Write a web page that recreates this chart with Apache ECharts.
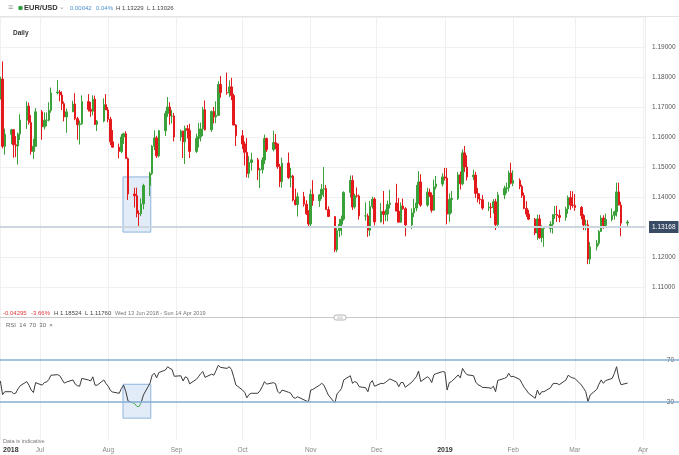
<!DOCTYPE html>
<html><head><meta charset="utf-8">
<script src="https://cdn.jsdelivr.net/npm/echarts@6/dist/echarts.min.js"></script>
<style>html,body{margin:0;padding:0;background:#fff}#c{width:679px;height:455px}</style>
</head><body><div id="c"></div>
<script>
// ---------- DATA ----------
const dates = [
'2018-06-13','2018-06-14','2018-06-15','2018-06-18','2018-06-19','2018-06-20','2018-06-21','2018-06-22','2018-06-25','2018-06-26','2018-06-27','2018-06-28','2018-06-29',
'2018-07-02','2018-07-03','2018-07-04','2018-07-05','2018-07-06','2018-07-09','2018-07-10','2018-07-11','2018-07-12','2018-07-13','2018-07-16','2018-07-17','2018-07-18','2018-07-19','2018-07-20','2018-07-23','2018-07-24','2018-07-25','2018-07-26','2018-07-27','2018-07-30','2018-07-31',
'2018-08-01','2018-08-02','2018-08-03','2018-08-06','2018-08-07','2018-08-08','2018-08-09','2018-08-10','2018-08-13','2018-08-14','2018-08-15','2018-08-16','2018-08-17','2018-08-20','2018-08-21','2018-08-22','2018-08-23','2018-08-24','2018-08-27','2018-08-28','2018-08-29','2018-08-30','2018-08-31',
'2018-09-03','2018-09-04','2018-09-05','2018-09-06','2018-09-07','2018-09-10','2018-09-11','2018-09-12','2018-09-13','2018-09-14','2018-09-17','2018-09-18','2018-09-19','2018-09-20','2018-09-21','2018-09-24','2018-09-25','2018-09-26','2018-09-27','2018-09-28',
'2018-10-01','2018-10-02','2018-10-03','2018-10-04','2018-10-05','2018-10-08','2018-10-09','2018-10-10','2018-10-11','2018-10-12','2018-10-15','2018-10-16','2018-10-17','2018-10-18','2018-10-19','2018-10-22','2018-10-23','2018-10-24','2018-10-25','2018-10-26','2018-10-29','2018-10-30','2018-10-31',
'2018-11-01','2018-11-02','2018-11-05','2018-11-06','2018-11-07','2018-11-08','2018-11-09','2018-11-12','2018-11-13','2018-11-14','2018-11-15','2018-11-16','2018-11-19','2018-11-20','2018-11-21','2018-11-22','2018-11-23','2018-11-26','2018-11-27','2018-11-28','2018-11-29','2018-11-30',
'2018-12-03','2018-12-04','2018-12-05','2018-12-06','2018-12-07','2018-12-10','2018-12-11','2018-12-12','2018-12-13','2018-12-14','2018-12-17','2018-12-18','2018-12-19','2018-12-20','2018-12-21','2018-12-24','2018-12-25','2018-12-26','2018-12-27','2018-12-28','2018-12-31',
'2019-01-01','2019-01-02','2019-01-03','2019-01-04','2019-01-07','2019-01-08','2019-01-09','2019-01-10','2019-01-11','2019-01-14','2019-01-15','2019-01-16','2019-01-17','2019-01-18','2019-01-21','2019-01-22','2019-01-23','2019-01-24','2019-01-25','2019-01-28','2019-01-29','2019-01-30','2019-01-31',
'2019-02-01','2019-02-04','2019-02-05','2019-02-06','2019-02-07','2019-02-08','2019-02-11','2019-02-12','2019-02-13','2019-02-14','2019-02-15','2019-02-18','2019-02-19','2019-02-20','2019-02-21','2019-02-22','2019-02-25','2019-02-26','2019-02-27','2019-02-28',
'2019-03-01','2019-03-04','2019-03-05','2019-03-06','2019-03-07','2019-03-08','2019-03-11','2019-03-12','2019-03-13','2019-03-14','2019-03-15','2019-03-18','2019-03-19','2019-03-20','2019-03-21','2019-03-22','2019-03-25'
];
const opens = [
1.1742,1.1793,1.1569,1.1609,1.1624,1.1574,1.1570,1.1610,1.1656,1.1703,1.1648,1.1552,1.1569,
1.1684,1.1634,1.1656,1.1656,1.1689,1.1747,1.1750,1.1740,1.1711,1.1667,1.1684,1.1710,1.1661,1.1641,1.1644,1.1718,1.1692,1.1686,1.1726,1.1642,1.1653,1.1708,
1.1690,1.1659,1.1584,1.1566,1.1552,1.1600,1.1611,1.1528,1.1410,1.1404,1.1345,1.1344,1.1377,1.1438,1.1478,1.1569,1.1597,1.1537,1.1621,1.1678,1.1700,1.1670,1.1670,
1.1600,1.1620,1.1584,1.1628,1.1622,1.1552,1.1595,1.1601,1.1627,1.1691,1.1624,1.1685,1.1667,1.1672,1.1775,1.1748,1.1747,1.1767,1.1738,1.1640,
1.1604,1.1577,1.1549,1.1478,1.1515,1.1524,1.1490,1.1491,1.1523,1.1595,1.1558,1.1581,1.1577,1.1501,1.1451,1.1513,1.1465,1.1470,1.1390,1.1375,1.1401,1.1376,1.1344,
1.1310,1.1409,1.1388,1.1407,1.1426,1.1428,1.1358,1.1335,1.1224,1.1288,1.1309,1.1326,1.1415,1.1455,1.1367,1.1404,1.1403,1.1337,1.1337,1.1289,1.1369,1.1393,
1.1317,1.1352,1.1342,1.1343,1.1375,1.1380,1.1353,1.1316,1.1370,1.1361,1.1307,1.1347,1.1363,1.1380,1.1450,1.1373,1.1416,1.1406,1.1356,1.1434,1.1443,
1.1467,1.1463,1.1343,1.1392,1.1395,1.1474,1.1444,1.1547,1.1500,1.1467,1.1473,1.1412,1.1393,1.1391,1.1363,1.1366,1.1364,1.1384,1.1308,1.1407,1.1428,1.1431,1.1480,
1.1446,1.1455,1.1435,1.1405,1.1362,1.1343,1.1326,1.1280,1.1327,1.1264,1.1295,1.1295,1.1309,1.1341,1.1342,1.1338,1.1332,1.1360,1.1398,1.1373,
1.1372,1.1365,1.1338,1.1307,1.1307,1.1193,1.1234,1.1246,1.1285,1.1330,1.1305,1.1325,1.1339,1.1351,1.1417,1.1373,1.1313
];
const highs = [
1.1801,1.1852,1.1628,1.1627,1.1626,1.1603,1.1615,1.1676,1.1719,1.1715,1.1673,1.1594,1.1696,
1.1690,1.1682,1.1682,1.1716,1.1765,1.1790,1.1757,1.1752,1.1718,1.1695,1.1721,1.1746,1.1667,1.1655,1.1739,1.1743,1.1717,1.1739,1.1738,1.1657,1.1729,1.1743,
1.1700,1.1667,1.1623,1.1578,1.1610,1.1614,1.1619,1.1532,1.1431,1.1431,1.1355,1.1395,1.1444,1.1484,1.1573,1.1622,1.1604,1.1624,1.1687,1.1733,1.1716,1.1690,1.1680,
1.1625,1.1621,1.1638,1.1640,1.1644,1.1611,1.1647,1.1648,1.1700,1.1722,1.1688,1.1700,1.1719,1.1786,1.1803,1.1815,1.1789,1.1797,1.1744,1.1643,
1.1623,1.1585,1.1597,1.1536,1.1548,1.1530,1.1497,1.1532,1.1608,1.1598,1.1621,1.1610,1.1578,1.1510,1.1531,1.1548,1.1497,1.1474,1.1428,1.1415,1.1417,1.1389,1.1356,
1.1426,1.1456,1.1410,1.1443,1.1500,1.1440,1.1369,1.1335,1.1301,1.1327,1.1338,1.1419,1.1472,1.1472,1.1411,1.1432,1.1408,1.1382,1.1345,1.1387,1.1401,1.1399,
1.1380,1.1420,1.1358,1.1388,1.1424,1.1444,1.1397,1.1382,1.1395,1.1366,1.1362,1.1394,1.1440,1.1486,1.1476,1.1431,1.1428,1.1415,1.1458,1.1470,1.1479,
1.1497,1.1497,1.1412,1.1420,1.1483,1.1485,1.1559,1.1570,1.1539,1.1491,1.1484,1.1430,1.1412,1.1407,1.1384,1.1380,1.1393,1.1394,1.1416,1.1438,1.1448,1.1488,1.1514,
1.1489,1.1462,1.1441,1.1415,1.1386,1.1357,1.1330,1.1341,1.1341,1.1306,1.1302,1.1320,1.1343,1.1370,1.1371,1.1358,1.1368,1.1405,1.1420,1.1419,
1.1410,1.1370,1.1343,1.1325,1.1323,1.1250,1.1257,1.1290,1.1339,1.1339,1.1345,1.1362,1.1354,1.1448,1.1448,1.1384,1.13229
];
const lows = [
1.1725,1.1562,1.1541,1.1576,1.1531,1.1533,1.1508,1.1590,1.1627,1.1641,1.1541,1.1527,1.1571,
1.1591,1.1625,1.1636,1.1652,1.1681,1.1742,1.1719,1.1690,1.1652,1.1614,1.1683,1.1656,1.1591,1.1575,1.1641,1.1685,1.1667,1.1672,1.1640,1.1620,1.1649,1.1690,
1.1649,1.1573,1.1565,1.1529,1.1546,1.1577,1.1528,1.1390,1.1365,1.1332,1.1301,1.1336,1.1359,1.1403,1.1473,1.1556,1.1530,1.1532,1.1603,1.1667,1.1641,1.1645,1.1585,
1.1586,1.1530,1.1510,1.1595,1.1530,1.1547,1.1565,1.1585,1.1603,1.1622,1.1617,1.1645,1.1646,1.1671,1.1731,1.1741,1.1733,1.1723,1.1639,1.1570,
1.1560,1.1505,1.1465,1.1463,1.1488,1.1456,1.1430,1.1478,1.1510,1.1550,1.1552,1.1559,1.1494,1.1433,1.1431,1.1460,1.1432,1.1385,1.1372,1.1335,1.1368,1.1340,1.1302,
1.1302,1.1371,1.1367,1.1393,1.1400,1.1358,1.1333,1.1216,1.1216,1.1266,1.1272,1.1321,1.1398,1.1357,1.1361,1.1398,1.1325,1.1321,1.1267,1.1270,1.1361,1.1305,
1.1315,1.1309,1.1320,1.1319,1.1362,1.1353,1.1316,1.1314,1.1357,1.1269,1.1293,1.1333,1.1352,1.1377,1.1367,1.1367,1.1400,1.1348,1.1354,1.1425,1.1435,
1.1455,1.1309,1.1317,1.1346,1.1390,1.1425,1.1439,1.1483,1.1455,1.1456,1.1397,1.1382,1.1376,1.1357,1.1353,1.1330,1.1345,1.1290,1.1297,1.1393,1.1412,1.1418,1.1442,
1.1436,1.1426,1.1397,1.1359,1.1334,1.1323,1.1273,1.1257,1.1261,1.1249,1.1234,1.1281,1.1278,1.1327,1.1317,1.1316,1.1321,1.1344,1.1357,1.1364,
1.1354,1.1326,1.1290,1.1289,1.1176,1.1177,1.1222,1.1238,1.1283,1.1294,1.1299,1.1319,1.1325,1.1335,1.1372,1.1269,1.13026
];
const closes = [
1.1793,1.1569,1.1609,1.1624,1.1574,1.1570,1.1610,1.1656,1.1703,1.1648,1.1552,1.1569,1.1684,
1.1634,1.1656,1.1656,1.1689,1.1747,1.1750,1.1740,1.1711,1.1667,1.1684,1.1710,1.1661,1.1641,1.1644,1.1718,1.1692,1.1686,1.1726,1.1642,1.1653,1.1708,1.1690,
1.1659,1.1584,1.1566,1.1552,1.1600,1.1611,1.1528,1.1410,1.1404,1.1345,1.1344,1.1377,1.1438,1.1478,1.1569,1.1597,1.1537,1.1621,1.1678,1.1700,1.1670,1.1670,1.1600,
1.1620,1.1584,1.1628,1.1622,1.1552,1.1595,1.1601,1.1627,1.1691,1.1624,1.1685,1.1667,1.1672,1.1775,1.1748,1.1747,1.1767,1.1738,1.1640,1.1604,
1.1577,1.1549,1.1478,1.1515,1.1524,1.1490,1.1491,1.1523,1.1595,1.1558,1.1581,1.1577,1.1501,1.1451,1.1513,1.1465,1.1470,1.1390,1.1375,1.1401,1.1376,1.1344,1.1310,
1.1409,1.1388,1.1407,1.1426,1.1428,1.1358,1.1335,1.1224,1.1288,1.1309,1.1326,1.1415,1.1455,1.1367,1.1404,1.1403,1.1337,1.1337,1.1289,1.1369,1.1393,1.1317,
1.1352,1.1342,1.1343,1.1375,1.1380,1.1353,1.1316,1.1370,1.1361,1.1307,1.1347,1.1363,1.1380,1.1450,1.1373,1.1416,1.1406,1.1356,1.1434,1.1443,1.1467,
1.1463,1.1343,1.1392,1.1395,1.1474,1.1444,1.1547,1.1500,1.1467,1.1473,1.1412,1.1393,1.1391,1.1363,1.1366,1.1364,1.1384,1.1308,1.1407,1.1428,1.1431,1.1480,1.1446,
1.1455,1.1435,1.1405,1.1362,1.1343,1.1326,1.1280,1.1327,1.1264,1.1295,1.1295,1.1309,1.1341,1.1342,1.1338,1.1332,1.1360,1.1398,1.1373,1.1372,
1.1365,1.1338,1.1307,1.1307,1.1193,1.1234,1.1246,1.1285,1.1330,1.1305,1.1325,1.1339,1.1351,1.1417,1.1373,1.1313,1.13168
];
const rsi = [
50,37,39.8,39.8,38,38.5,42.5,45.5,49.4,46,41.4,39,48.4,
46,48.5,49,51.5,55.5,56,55,51.5,48,49,51,47,45.5,45,52.5,51,50,54,46,46,51,47.5,
45,41,39.5,38.3,43,46,40,31,28.5,25.8,25.6,29.7,36.7,48,55.7,57.3,53,58,60.5,63.6,62,61,54.5,
55,50,54,53,47.3,51.5,54,57,59,53.5,56.5,55.5,60,65,63,62,63.6,61,54,46.2,
41.4,39.2,34,37.2,38.3,38.3,40.9,44.6,49.4,47,48.4,47.5,40,38.3,41.4,39.2,38.3,34.5,33.5,35,32,31,30.3,
41.4,42,46,47.8,46,41.4,36.7,29,38,40,43,51,55,47.8,49.5,48.5,44.6,43.5,39.8,47.8,50.4,45,
47.8,47.5,48.6,50.4,52,49,44.6,48.5,48.5,44,49,51.5,54,59.5,49.5,54,52.5,48.5,56,57,59,
58.5,41.4,48.5,49.5,55.7,53,62,58.5,56,55,49,46.5,45.5,44,43.5,43,45,39.8,50.5,52.5,53.5,57.3,54,
54.5,51.5,47.8,44,41.4,38.3,33.5,41.4,36.7,39.8,39.8,43.6,47.3,47.8,47.5,46.5,51,55.5,54,53,
52.5,46.2,43,39.8,30.3,36.7,42,47,51,47.8,50.4,52.5,57.3,63.6,52.5,46.5,48
];
const monthNames = ['Jan','Feb','Mar','Apr','May','Jun','Jul','Aug','Sep','Oct','Nov','Dec'];
const lastPrice = 1.13168;
const rsiLevels = [70, 30];
const boxTimes = ['2018-08-07 17:00', '2018-08-20 08:00'];
const boxPrices = [1.1467, 1.1283];
const boxRsi = [46.9, 14.6];

// ---------- LAYOUT ----------
const DAY = 864e5;
const pxPerDay = (643 - 40) / 274;
const jul1 = new Date(2018, 6, 1).getTime();
const xMin = jul1 - 40 / pxPerDay * DAY;
const xMaxMain = xMin + 645 / pxPerDay * DAY;
const xMaxRsi = xMin + 679 / pxPerDay * DAY;
const FONT = 'Liberation Sans, Arial, sans-serif';
const RSI_TOP = 318, RSI_H = 122, RSI_MIN = -6.19, RSI_MAX = 110;
const y30 = RSI_TOP + (RSI_MAX - 30) / (RSI_MAX - RSI_MIN) * RSI_H;

const candleData = dates.map((d, i) => [d, opens[i], closes[i], lows[i], highs[i]]);
const rsiData = dates.map((d, i) => [d, rsi[i]]);

const chart = echarts.init(document.getElementById('c'), null, {renderer: 'canvas'});
const splitX = {show: true, lineStyle: {color: '#f0f0f0', width: 1}};
const rsiGradient = {type: 'linear', x: 0, y: 0, x2: 0, y2: 455, global: true, colorStops: [
  {offset: 0, color: '#3a3a3a'}, {offset: y30 / 455, color: '#3a3a3a'},
  {offset: y30 / 455, color: '#4caf50'}, {offset: 1, color: '#4caf50'}]};
const txt = (x, y, text, fill, font) => ({type: 'text', x: x, y: y, z: 10,
  style: {text: text, fill: fill, font: font, verticalAlign: 'middle'}});
const option = {
  animation: false,
  textStyle: {fontFamily: FONT},
  grid: [
    {left: 0, top: 17, width: 645, height: 300},
    {left: 0, top: RSI_TOP, width: 679, height: RSI_H}
  ],
  xAxis: [
    {type: 'time', gridIndex: 0, min: xMin, max: xMaxMain, minInterval: 30 * DAY, maxInterval: 30 * DAY,
     axisLine: {show: false}, axisTick: {show: false}, axisLabel: {show: false}, splitLine: splitX},
    {type: 'time', gridIndex: 1, min: xMin, max: xMaxRsi, minInterval: 30 * DAY, maxInterval: 30 * DAY,
     axisLine: {show: false}, axisTick: {show: false}, splitLine: splitX,
     axisLabel: {color: '#888', fontSize: 6.5, margin: 7, showMinLabel: false, showMaxLabel: false, hideOverlap: false,
       formatter: function (v) {
         const d = new Date(v);
         if (d.getDate() !== 1 || d.getHours() !== 0) return '';
         const m = d.getMonth();
         return m === 0 ? '{y|' + d.getFullYear() + '}' : monthNames[m];
       },
       rich: {y: {fontSize: 7, fontWeight: 'bold', color: '#333'}}}}
  ],
  yAxis: [
    {type: 'value', gridIndex: 0, position: 'right', min: 1.10, max: 1.20, interval: 0.01,
     axisLine: {show: true, lineStyle: {color: '#ececec'}}, axisTick: {show: false},
     splitLine: {lineStyle: {color: '#f0f0f0'}},
     axisLabel: {color: '#555', fontSize: 6.5, margin: 7, showMinLabel: false, showMaxLabel: false,
       formatter: v => v.toFixed(5)}},
    {type: 'value', gridIndex: 1, position: 'right', min: RSI_MIN, max: RSI_MAX,
     axisLine: {show: false}, axisTick: {show: false}, splitLine: {show: false},
     axisLabel: {inside: true, customValues: rsiLevels, color: '#555', fontSize: 6.5, margin: 4,
       backgroundColor: '#fff', padding: [0, 1]}}
  ],
  series: [
    {type: 'candlestick', xAxisIndex: 0, yAxisIndex: 0, barWidth: 2, data: candleData,
     encode: {x: 0, y: [1, 2, 3, 4]},
     itemStyle: {color: '#3aa13a', color0: '#e3191c', borderColor: '#3aa13a', borderColor0: '#e3191c', borderWidth: 1},
     markLine: {symbol: 'none', silent: true, animation: false,
       lineStyle: {color: '#cdd5df', width: 2, type: 'solid'},
       label: {position: 'end', formatter: lastPrice.toFixed(5), color: '#fff', backgroundColor: '#3a4b66',
         padding: [3, 3, 2, 3], fontSize: 6.5, distance: 4},
       data: [{yAxis: lastPrice}]},
     markArea: {silent: true, itemStyle: {color: 'rgba(170,200,235,0.35)', borderColor: '#8fb3dc', borderWidth: 1},
       data: [[{coord: [boxTimes[0], boxPrices[0]]}, {coord: [boxTimes[1], boxPrices[1]]}]]}},
    {type: 'line', xAxisIndex: 1, yAxisIndex: 1, data: rsiData, showSymbol: false, symbol: 'none',
     lineStyle: {width: 1, color: rsiGradient}, itemStyle: {color: '#3a3a3a'}, z: 3,
     markLine: {symbol: 'none', silent: true, animation: false,
       lineStyle: {color: '#86acd6', width: 1.5, type: 'solid'}, label: {show: false},
       data: rsiLevels.map(v => ({yAxis: v}))},
     markArea: {silent: true, itemStyle: {color: 'rgba(170,200,235,0.35)', borderColor: '#8fb3dc', borderWidth: 1},
       data: [[{coord: [boxTimes[0], boxRsi[0]]}, {coord: [boxTimes[1], boxRsi[1]]}]]}}
  ],
  graphic: [
    {type: 'line', shape: {x1: 0, y1: 16.5, x2: 679, y2: 16.5}, style: {stroke: '#e4e4e4', lineWidth: 1}, z: 10},
    {type: 'line', shape: {x1: 0, y1: 317.5, x2: 679, y2: 317.5}, style: {stroke: '#c8c8c8', lineWidth: 1}, z: 10},
    {type: 'rect', shape: {x: 334, y: 315, width: 12, height: 5, r: 2}, style: {fill: '#fff', stroke: '#b5b5b5', lineWidth: 1}, z: 11},
    {type: 'line', shape: {x1: 337, y1: 317, x2: 343, y2: 317}, style: {stroke: '#b5b5b5', lineWidth: 0.6}, z: 12},
    {type: 'line', shape: {x1: 337, y1: 318.3, x2: 343, y2: 318.3}, style: {stroke: '#b5b5b5', lineWidth: 0.6}, z: 12},
    txt(8, 8, '≡', '#999', '9px ' + FONT),
    {type: 'circle', shape: {cx: 20.5, cy: 8, r: 2.3}, style: {fill: '#2e9e3e'}, z: 10},
    txt(24, 8, 'EUR/USD', '#333', 'bold 7.5px ' + FONT),
    txt(59, 7.5, '⌄', '#999', '7px ' + FONT),
    txt(70, 8, '0.00042', '#4b8fd0', '6px ' + FONT),
    txt(96, 8, '0.04%', '#4b8fd0', '6px ' + FONT),
    txt(116, 8, 'H 1.13229', '#444', '6px ' + FONT),
    txt(147, 8, 'L 1.13026', '#444', '6px ' + FONT),
    txt(13, 33, 'Daily', '#333', 'bold 6.5px ' + FONT),
    txt(3, 313, '-0.04295', '#e0383b', '6px ' + FONT),
    txt(31, 313, '-3.66%', '#e0383b', '6px ' + FONT),
    txt(54, 313, 'H 1.18524', '#444', '6px ' + FONT),
    txt(85, 313, 'L 1.11760', '#444', '6px ' + FONT),
    txt(115, 313, 'Wed 13 Jun 2018 - Sun 14 Apr 2019', '#777', '5.6px ' + FONT),
    txt(6, 325.5, 'RSI  14  70  30  ×', '#666', '6px ' + FONT),
    txt(3, 441, 'Data is indicative', '#777', '5.5px ' + FONT),
    txt(3, 450.5, '2018', '#333', 'bold 7px ' + FONT)
  ]
};
chart.setOption(option);
</script>
</body></html>
